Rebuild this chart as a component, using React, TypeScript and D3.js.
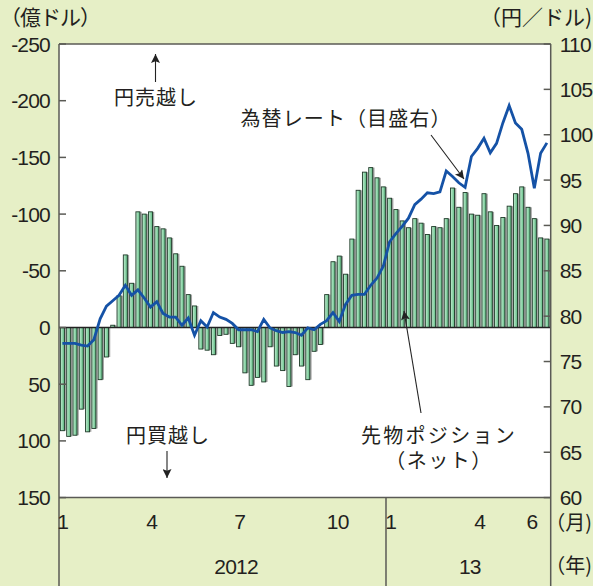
import React, { useEffect, useRef } from 'react';
import * as d3 from 'd3';

// weekly net futures position (億ドル, minus = yen short) and USD/JPY
const netPosition2012 = [
  91, 96, 95, 72, 92, 89, 46, 26, -2, -28, -64, -39, -102, -100, -102, -89, -87, -79, -65, -54,
  -29, -19, 19, 20, 24, 7, 6, 14, 17, 40, 51, 44, 48, 17, 34, 38, 52, 24, 34, 46,
  21, 15, -29, -58, -63, -47, -78, -121, -137, -141, -132, -124,
];
const netPosition2013 = [
  -114, -104, -94, -88, -96, -92, -82, -89, -88, -96, -123, -106, -119, -100, -99, -118, -102, -90,
  -97, -107, -118, -124, -106, -96, -79, -78,
];
const usdJpy2012 = [
  77.0, 77.0, 77.0, 76.8, 76.7, 77.4, 79.7, 81.1, 81.7, 82.3, 83.4, 82.3, 82.9, 82.0, 81.0, 81.6,
  80.3, 79.9, 79.9, 79.0, 79.8, 77.9, 79.5, 78.8, 80.4, 79.9, 79.65, 79.2, 78.5, 78.5, 78.5, 78.3,
  79.65, 78.7, 78.4, 78.2, 78.3, 78.2, 77.9, 78.7, 78.5, 79.1, 79.5, 80.4, 79.4, 81.3, 82.3, 82.4,
  82.4, 83.4, 84.2, 85.5,
];
const usdJpy2013 = [
  88.2, 89.1, 89.9, 90.8, 92.3, 92.9, 93.6, 93.5, 93.7, 96.0, 95.4, 94.7, 94.2, 97.6, 98.5, 99.6,
  98.0, 99.05, 101.3, 103.2, 101.3, 100.6, 97.95, 94.1, 97.95, 99.1,
];

const leftTicks = [-250, -200, -150, -100, -50, 0, 50, 100, 150];
const rightTicks = [110, 105, 100, 95, 90, 85, 80, 75, 70, 65, 60];
const monthLabels = ['1', '4', '7', '10', '1', '4', '6'];
const monthLabelDates = ['2012-01-05', '2012-04-13', '2012-07-20', '2012-11-06', '2013-01-04', '2013-04-13', '2013-06-10'];
const yearLabels = ['2012', '13'];
const yearLabelDates = ['2012-07-16', '2013-04-02'];

const W = 593;
const H = 586;
const NUM_FONT = '"Liberation Sans", Arial, sans-serif';
const JP_FONT = '"Noto Sans CJK JP", "Noto Sans", sans-serif';

export default function App() {
  const ref = useRef<SVGSVGElement>(null);

  useEffect(() => {
    const svg = d3.select(ref.current);
    svg.selectAll('*').remove();

    const margin = { left: 59, right: 42.3, top: 44, bottom: 88.4 };
    const plotR = W - margin.right;
    const plotB = H - margin.bottom;

    const start = new Date(Date.UTC(2012, 0, 1));
    const end = new Date(Date.UTC(2013, 6, 1));
    const weeks = d3.utcTuesday.range(start, end);
    const net = netPosition2012.concat(netPosition2013);
    const rate = usdJpy2012.concat(usdJpy2013);
    const data = weeks.map((d, i) => ({ date: d, net: net[i], rate: rate[i] }));

    const x = d3.scaleUtc().domain([start, end]).range([margin.left, plotR]);
    const yL = d3.scaleLinear().domain([-250, 150]).range([margin.top, plotB]);
    const yR = d3.scaleLinear().domain([110, 60]).range([margin.top, plotB]);
    const barW = 4;
    const cx = (d: Date) => x(d) + 1.6;

    // background
    svg.append('rect').attr('width', W).attr('height', H).attr('fill', '#e6efc6');
    svg.append('rect')
      .attr('x', margin.left).attr('y', margin.top)
      .attr('width', plotR - margin.left).attr('height', plotB - margin.top)
      .attr('fill', '#fff');

    const defs = svg.append('defs');
    const grad = defs.append('linearGradient').attr('id', 'barGrad')
      .attr('x1', 0).attr('x2', 1).attr('y1', 0).attr('y2', 0);
    grad.append('stop').attr('offset', '0%').attr('stop-color', '#c4efd3');
    grad.append('stop').attr('offset', '100%').attr('stop-color', '#5dbb82');

    const marker = defs.append('marker').attr('id', 'head')
      .attr('viewBox', '0 0 10 10').attr('refX', 10).attr('refY', 5)
      .attr('markerWidth', 12).attr('markerHeight', 9).attr('markerUnits', 'userSpaceOnUse')
      .attr('orient', 'auto');
    marker.append('path').attr('d', 'M0,0 L10,5 L0,10 L2,5 Z').attr('fill', '#222');

    // bars: shadow then bar
    const bars = svg.append('g');
    bars.selectAll('rect.shadow').data(data).enter().append('rect')
      .attr('class', 'shadow')
      .attr('x', (d) => cx(d.date) - barW / 2 + 1.8)
      .attr('y', (d) => Math.min(yL(0), yL(d.net)))
      .attr('width', barW)
      .attr('height', (d) => Math.abs(yL(d.net) - yL(0)))
      .attr('fill', '#a4a4a4');
    bars.selectAll('rect.bar').data(data).enter().append('rect')
      .attr('class', 'bar')
      .attr('x', (d) => cx(d.date) - barW / 2)
      .attr('y', (d) => Math.min(yL(0), yL(d.net)))
      .attr('width', barW)
      .attr('height', (d) => Math.abs(yL(d.net) - yL(0)))
      .attr('fill', 'url(#barGrad)')
      .attr('stroke', '#1f3a29')
      .attr('stroke-width', 0.9);

    // zero line
    svg.append('line')
      .attr('x1', margin.left).attr('x2', plotR)
      .attr('y1', yL(0)).attr('y2', yL(0))
      .attr('stroke', '#222').attr('stroke-width', 1.6);

    // exchange rate
    const line = d3.line<{ date: Date; rate: number }>()
      .x((d) => cx(d.date))
      .y((d) => yR(d.rate));
    svg.append('path').datum(data)
      .attr('d', line)
      .attr('fill', 'none')
      .attr('stroke', '#1552a6')
      .attr('stroke-width', 2.8)
      .attr('stroke-linejoin', 'miter');

    // frame and bottom dividers
    const frame = svg.append('g').attr('stroke', '#5a5a55').attr('stroke-width', 1.5);
    frame.append('line').attr('x1', margin.left).attr('x2', plotR).attr('y1', margin.top).attr('y2', margin.top);
    frame.append('line').attr('x1', margin.left).attr('x2', plotR).attr('y1', plotB).attr('y2', plotB);
    frame.append('line').attr('x1', margin.left).attr('x2', margin.left).attr('y1', margin.top).attr('y2', H);
    frame.append('line').attr('x1', plotR).attr('x2', plotR).attr('y1', margin.top).attr('y2', H);
    const yearSplit = x(new Date(Date.UTC(2013, 0, 1))) - 2;
    frame.append('line').attr('x1', yearSplit).attr('x2', yearSplit).attr('y1', plotB).attr('y2', H);

    // ticks
    frame.selectAll('line.lt').data(leftTicks).enter().append('line')
      .attr('x1', margin.left).attr('x2', margin.left + 7)
      .attr('y1', (d) => yL(d)).attr('y2', (d) => yL(d));
    frame.selectAll('line.rt').data(rightTicks).enter().append('line')
      .attr('x1', plotR - 7).attr('x2', plotR)
      .attr('y1', (d) => yR(d)).attr('y2', (d) => yR(d));

    const num = svg.append('g')
      .attr('font-family', NUM_FONT).attr('font-size', 21)
      .attr('fill', '#231f20').attr('letter-spacing', -0.8);
    num.selectAll('text.l').data(leftTicks).enter().append('text')
      .attr('x', margin.left - 9).attr('y', (d) => yL(d)).attr('dy', '0.36em')
      .attr('text-anchor', 'end').text((d) => String(d));
    num.selectAll('text.r').data(rightTicks).enter().append('text')
      .attr('x', plotR + 9).attr('y', (d) => yR(d)).attr('dy', '0.36em')
      .text((d) => String(d));
    num.selectAll('text.m').data(monthLabels).enter().append('text')
      .attr('x', (d, i) => x(new Date(monthLabelDates[i])))
      .attr('y', plotB + 31)
      .attr('text-anchor', 'middle').text((d) => d);
    num.selectAll('text.yr').data(yearLabels).enter().append('text')
      .attr('x', (d, i) => x(new Date(yearLabelDates[i])))
      .attr('y', plotB + 76)
      .attr('text-anchor', 'middle').text((d) => d);

    // Japanese labels
    const jp = svg.append('g')
      .attr('font-family', JP_FONT).attr('font-size', 20).attr('fill', '#231f20');
    const label = (t: string, lx: number, ly: number, anchor = 'middle') =>
      jp.append('text').attr('x', lx).attr('y', ly).attr('text-anchor', anchor).text(t);
    label('（億ドル）', 0, 25, 'start').attr('font-size', 21).attr('letter-spacing', -1);
    label('（円／ドル)', 592, 25, 'end').attr('font-size', 21);
    label('（月)', 592, 530, 'end');
    label('（年)', 592, 573, 'end');
    label('円売越し', 156, 105).attr('letter-spacing', 1);
    label('円買越し', 168, 443).attr('letter-spacing', 1);
    label('為替レート（目盛右）', 346, 126).attr('letter-spacing', 1.1);
    const pos = jp.append('text').attr('text-anchor', 'middle');
    pos.append('tspan').attr('x', 439).attr('y', 443).attr('letter-spacing', 2.3).text('先物ポジション');
    pos.append('tspan').attr('x', 439).attr('y', 468).attr('letter-spacing', 1.5).text('（ネット）');

    // annotation arrows
    const arrows = [
      [155.5, 82, 155.5, 54],
      [167, 451, 167, 478],
      [431, 135, 464, 179],
      [421, 413, 404, 311],
    ];
    svg.append('g').selectAll('line').data(arrows).enter().append('line')
      .attr('x1', (d) => d[0]).attr('y1', (d) => d[1])
      .attr('x2', (d) => d[2]).attr('y2', (d) => d[3])
      .attr('stroke', '#222').attr('stroke-width', 1.1)
      .attr('marker-end', 'url(#head)');
  }, []);

  return (
    <div style={{ position: 'absolute', left: 0, top: 0 }}>
      <svg ref={ref} width={W} height={H} style={{ display: 'block' }} />
    </div>
  );
}
